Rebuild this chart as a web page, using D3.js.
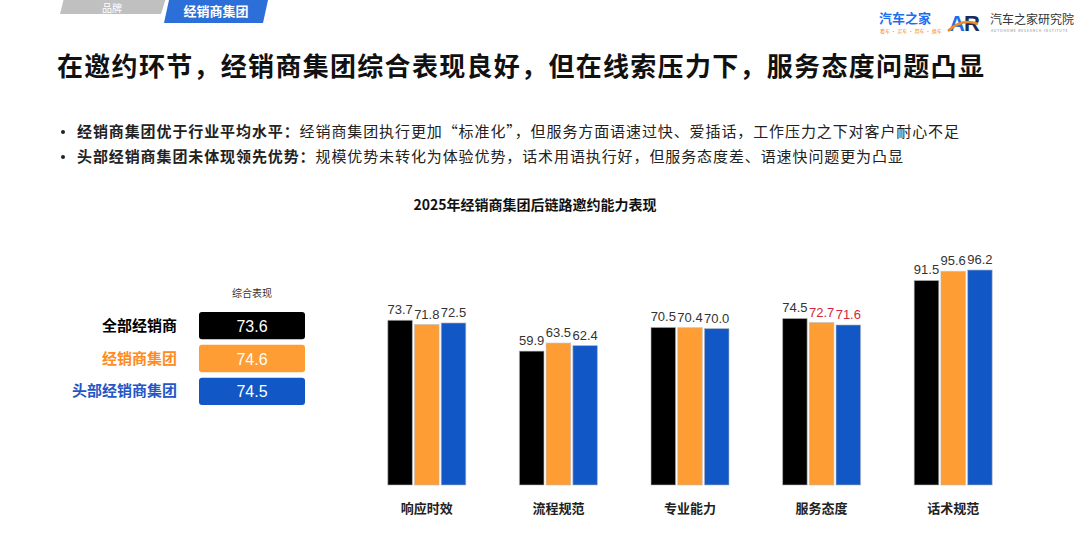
<!DOCTYPE html>
<html>
<head>
<meta charset="utf-8">
<script src="https://cdn.jsdelivr.net/npm/d3@7"></script>
<style>
  body { margin: 0; background: #fff; }
  text { font-family: "Noto Sans CJK SC", "Liberation Sans", sans-serif; }
  .num { font-family: "Liberation Sans", Arial, sans-serif; }
</style>
</head>
<body>
<div id="chart"></div>
<script>
// chart data
var categories = ['响应时效', '流程规范', '专业能力', '服务态度', '话术规范'];
var seriesNames = ['全部经销商', '经销商集团', '头部经销商集团'];
var allDealers = [73.7, 59.9, 70.5, 74.5, 91.5];
var dealerGroups = [71.8, 63.5, 70.4, 72.7, 95.6];
var topGroups = [72.5, 62.4, 70.0, 71.6, 96.2];
var overallScores = [73.6, 74.6, 74.5];
// labels shown in red: [series index, category]
var highlighted = [[1, '服务态度'], [2, '服务态度']];

var seriesValues = [allDealers, dealerGroups, topGroups];
var seriesColors = ['#000000', '#fe9d34', '#1157c6'];
var labelColors = ['#000000', '#fe8c22', '#2457c5'];

var W = 1080, H = 540;
var svg = d3.select('#chart').append('svg')
    .attr('width', W)
    .attr('height', H);

// header tabs
svg.append('polygon')
    .attr('points', '64,-2 166,-2 161,14 60,14')
    .style('fill', '#c0c0c0');
svg.append('text')
    .attr('x', 112).attr('y', 11.5)
    .attr('text-anchor', 'middle')
    .style('font-size', '10px').style('fill', '#fff')
    .text('品牌');
svg.append('polygon')
    .attr('points', '169,0 268,0 263,23 164,23')
    .style('fill', '#2d6fd8');
svg.append('text')
    .attr('x', 216).attr('y', 16)
    .attr('text-anchor', 'middle')
    .style('font-size', '13px').style('font-weight', 'bold').style('fill', '#fff')
    .text('经销商集团');

// logos
svg.append('text')
    .attr('x', 879).attr('y', 23)
    .style('font-size', '13px').style('font-weight', 'bold').style('fill', '#1e6ff0')
    .text('汽车之家');
svg.append('text')
    .attr('x', 880).attr('y', 33)
    .style('font-size', '5px').style('fill', '#f08a24')
    .text('看车 · 买车 · 用车 · 换车');
svg.append('text')
    .attr('x', 949).attr('y', 31)
    .style('font-size', '22px').style('font-weight', 'bold').style('fill', '#1e6ff0')
    .style('font-family', '"Liberation Sans", Arial, sans-serif')
    .text('A');
svg.append('text')
    .attr('x', 964).attr('y', 31)
    .style('font-size', '22px').style('font-weight', 'bold').style('fill', '#1a2d5a')
    .style('font-family', '"Liberation Sans", Arial, sans-serif')
    .text('R');
svg.append('path')
    .attr('d', 'M948,31 Q962,18 978,24')
    .style('fill', 'none').style('stroke', '#f08a24').style('stroke-width', 2.5);
svg.append('text')
    .attr('x', 990).attr('y', 24)
    .style('font-size', '12px').style('fill', '#333')
    .text('汽车之家研究院');
svg.append('text')
    .attr('x', 991).attr('y', 32)
    .style('font-size', '3.5px').style('fill', '#888').style('letter-spacing', '0.8px')
    .text('AUTOHOME RESEARCH INSTITUTE');

// title
svg.append('text')
    .attr('x', 57).attr('y', 76)
    .style('font-size', '26px').style('font-weight', 'bold').style('fill', '#111')
    .style('letter-spacing', '1.3px')
    .text('在邀约环节，经销商集团综合表现良好，但在线索压力下，服务态度问题凸显');

// bullet points
var bullets = [
    ['经销商集团优于行业平均水平：', '经销商集团执行更加“标准化”，但服务方面语速过快、爱插话，工作压力之下对客户耐心不足'],
    ['头部经销商集团未体现领先优势：', '规模优势未转化为体验优势，话术用语执行好，但服务态度差、语速快问题更为凸显']
];
bullets.forEach(function(b, i) {
    var y = 137 + i * 25;
    svg.append('circle')
        .attr('cx', 63).attr('cy', y - 5).attr('r', 2)
        .style('fill', '#222');
    var t = svg.append('text')
        .attr('x', 77).attr('y', y)
        .style('font-size', '15px').style('fill', '#222')
        .style('letter-spacing', '0.9px');
    t.append('tspan').style('font-weight', 'bold').text(b[0]);
    t.append('tspan').text(b[1]);
});

// chart title
svg.append('text')
    .attr('x', 535).attr('y', 210)
    .attr('text-anchor', 'middle')
    .style('font-size', '14px').style('font-weight', 'bold').style('fill', '#111')
    .text('2025年经销商集团后链路邀约能力表现');

// left summary panel
svg.append('text')
    .attr('x', 252).attr('y', 297)
    .attr('text-anchor', 'middle')
    .style('font-size', '10px').style('fill', '#333')
    .text('综合表现');

var rowY = d3.scaleBand()
    .domain(seriesNames)
    .range([312, 405])
    .paddingInner(0.17);

var rows = svg.append('g').selectAll('g')
    .data(seriesNames)
    .enter()
    .append('g');

rows.append('rect')
    .attr('x', 199)
    .attr('y', function(d) { return rowY(d); })
    .attr('width', 106)
    .attr('height', rowY.bandwidth())
    .attr('rx', 3)
    .style('fill', function(d, i) { return seriesColors[i]; });

rows.append('text')
    .attr('class', 'num')
    .attr('x', 252)
    .attr('y', function(d) { return rowY(d) + rowY.bandwidth() / 2 + 6; })
    .attr('text-anchor', 'middle')
    .style('font-size', '16px').style('fill', '#fff')
    .text(function(d, i) { return d3.format('.1f')(overallScores[i]); });

rows.append('text')
    .attr('x', 177)
    .attr('y', function(d) { return rowY(d) + rowY.bandwidth() / 2 + 5; })
    .attr('text-anchor', 'end')
    .style('font-size', '15px').style('font-weight', 'bold')
    .style('fill', function(d, i) { return labelColors[i]; })
    .text(function(d) { return d; });

// grouped bars
var x0 = d3.scaleBand()
    .domain(categories)
    .range([361, 1019])
    .padding(0);

var x1 = d3.scaleBand()
    .domain(d3.range(seriesNames.length))
    .range([0, 78])
    .paddingInner(0.08);

var y = d3.scaleLinear()
    .domain([0, 100])
    .range([485, 261.5]);

var groups = svg.append('g').selectAll('g')
    .data(categories)
    .enter()
    .append('g')
    .attr('transform', function(d) { return 'translate(' + (x0(d) + x0.bandwidth() / 2 - 39) + ',0)'; });

function isRed(si, cat) {
    return highlighted.some(function(h) { return h[0] === si && h[1] === cat; });
}

groups.each(function(cat, ci) {
    var g = d3.select(this);
    var data = seriesValues.map(function(vals, si) { return { si: si, v: vals[ci] }; });

    g.selectAll('rect')
        .data(data)
        .enter()
        .append('rect')
        .attr('x', function(d) { return x1(d.si); })
        .attr('y', function(d) { return y(d.v); })
        .attr('width', x1.bandwidth())
        .attr('height', function(d) { return y(0) - y(d.v); })
        .style('fill', function(d) { return seriesColors[d.si]; })
        .style('stroke', '#bdbdbd')
        .style('stroke-opacity', 0.6)
        .style('stroke-width', 1);

    g.selectAll('text.val')
        .data(data)
        .enter()
        .append('text')
        .attr('class', 'val num')
        .attr('x', function(d) { return x1(d.si) + x1.bandwidth() / 2; })
        .attr('y', function(d) { return y(d.v) - 6; })
        .attr('text-anchor', 'middle')
        .style('font-size', '13px')
        .style('fill', function(d) { return isRed(d.si, cat) ? '#d3283c' : '#333'; })
        .text(function(d) { return d3.format('.1f')(d.v); });
});

// category labels
svg.append('g').selectAll('text')
    .data(categories)
    .enter()
    .append('text')
    .attr('x', function(d) { return x0(d) + x0.bandwidth() / 2; })
    .attr('y', 513)
    .attr('text-anchor', 'middle')
    .style('font-size', '13px').style('font-weight', 'bold').style('fill', '#222')
    .text(function(d) { return d; });
</script>
</body>
</html>
